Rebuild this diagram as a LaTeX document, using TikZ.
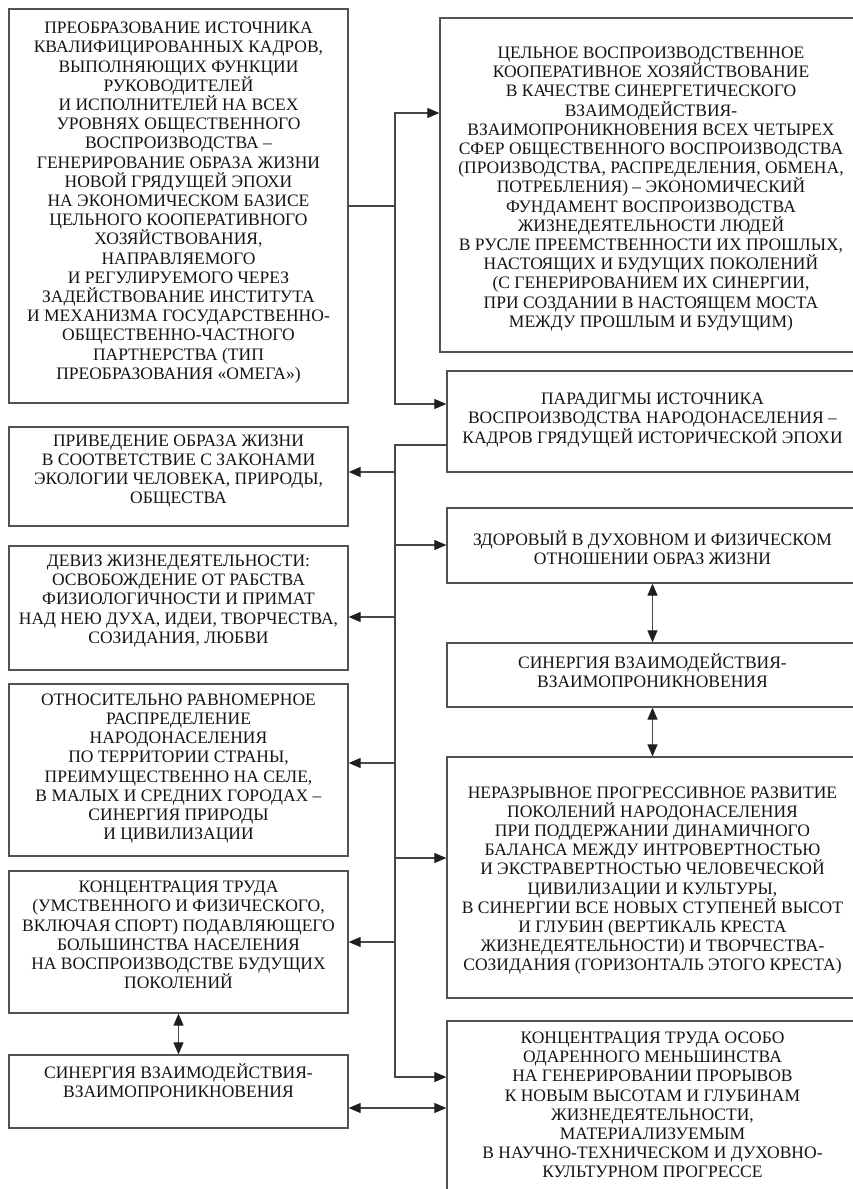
\documentclass[tikz,border=0pt]{standalone}
\usepackage{fontspec}
\setmainfont{Liberation Serif}
\usetikzlibrary{arrows.meta}
\begin{document}
\begin{tikzpicture}[x=1pt,y=-1pt,
  box/.style={draw=black!68, line width=1.3pt, rectangle, inner sep=0pt},
  txt/.style={align=center, inner sep=0pt, text=black!92, font=\fontsize{17.5}{19.2}\selectfont},
  ln/.style={draw=black!72, line width=1.1pt},
  arr/.style={ln, -{Triangle[length=12pt,width=10pt,color=black!88]}},
  darr/.style={ln, {Triangle[length=12pt,width=10pt,color=black!88]}-{Triangle[length=12pt,width=10pt,color=black!88]}}]
\useasboundingbox (0,0) rectangle (853,1189);
% left boxes
\node[box, minimum width=339pt, minimum height=394pt] (L1) at (178.5,206) {};
\node[box, minimum width=339pt, minimum height=99pt] (L2) at (178.5,476.5) {};
\node[box, minimum width=339pt, minimum height=124pt] (L3) at (178.5,608) {};
\node[box, minimum width=339pt, minimum height=172pt] (L4) at (178.5,770) {};
\node[box, minimum width=339pt, minimum height=142pt] (L5) at (178.5,942) {};
\node[box, minimum width=339pt, minimum height=73pt] (L6) at (178.5,1091.5) {};
% right boxes
\node[box, minimum width=422pt, minimum height=334pt] (R1) at (651,185) {};
\node[box, minimum width=411pt, minimum height=101pt] (R2) at (652.5,421.5) {};
\node[box, minimum width=411pt, minimum height=75pt] (R3) at (652.5,545.5) {};
\node[box, minimum width=411pt, minimum height=64pt] (R4) at (652.5,675) {};
\node[box, minimum width=411pt, minimum height=241pt] (R5) at (652.5,877.5) {};
\node[box, minimum width=411pt, minimum height=170pt] (R6) at (652.5,1106) {};
% texts
\node[txt] (L1t) at (178.5,202.5) {ПРЕОБРАЗОВАНИЕ ИСТОЧНИКА\\КВАЛИФИЦИРОВАННЫХ КАДРОВ,\\ВЫПОЛНЯЮЩИХ ФУНКЦИИ\\РУКОВОДИТЕЛЕЙ\\И ИСПОЛНИТЕЛЕЙ НА ВСЕХ\\УРОВНЯХ ОБЩЕСТВЕННОГО\\ВОСПРОИЗВОДСТВА –\\ГЕНЕРИРОВАНИЕ ОБРАЗА ЖИЗНИ\\НОВОЙ ГРЯДУЩЕЙ ЭПОХИ\\НА ЭКОНОМИЧЕСКОМ БАЗИСЕ\\ЦЕЛЬНОГО КООПЕРАТИВНОГО\\ХОЗЯЙСТВОВАНИЯ,\\НАПРАВЛЯЕМОГО\\И РЕГУЛИРУЕМОГО ЧЕРЕЗ\\ЗАДЕЙСТВОВАНИЕ ИНСТИТУТА\\И МЕХАНИЗМА ГОСУДАРСТВЕННО-\\ОБЩЕСТВЕННО-ЧАСТНОГО\\ПАРТНЕРСТВА (ТИП\\ПРЕОБРАЗОВАНИЯ «ОМЕГА»)};
\node[txt] (L2t) at (178.5,471) {ПРИВЕДЕНИЕ ОБРАЗА ЖИЗНИ\\В СООТВЕТСТВИЕ С ЗАКОНАМИ\\ЭКОЛОГИИ ЧЕЛОВЕКА, ПРИРОДЫ,\\ОБЩЕСТВА};
\node[txt] (L3t) at (178.5,601) {ДЕВИЗ ЖИЗНЕДЕЯТЕЛЬНОСТИ:\\ОСВОБОЖДЕНИЕ ОТ РАБСТВА\\ФИЗИОЛОГИЧНОСТИ И ПРИМАТ\\НАД НЕЮ ДУХА, ИДЕИ, ТВОРЧЕСТВА,\\СОЗИДАНИЯ, ЛЮБВИ};
\node[txt] (L4t) at (178.5,768.5) {ОТНОСИТЕЛЬНО РАВНОМЕРНОЕ\\РАСПРЕДЕЛЕНИЕ\\НАРОДОНАСЕЛЕНИЯ\\ПО ТЕРРИТОРИИ СТРАНЫ,\\ПРЕИМУЩЕСТВЕННО НА СЕЛЕ,\\В МАЛЫХ И СРЕДНИХ ГОРОДАХ –\\СИНЕРГИЯ ПРИРОДЫ\\И ЦИВИЛИЗАЦИИ};
\node[txt] (L5t) at (178.5,935) {КОНЦЕНТРАЦИЯ ТРУДА\\(УМСТВЕННОГО И ФИЗИЧЕСКОГО,\\ВКЛЮЧАЯ СПОРТ) ПОДАВЛЯЮЩЕГО\\БОЛЬШИНСТВА НАСЕЛЕНИЯ\\НА ВОСПРОИЗВОДСТВЕ БУДУЩИХ\\ПОКОЛЕНИЙ};
\node[txt] (L6t) at (178.5,1080.5) {СИНЕРГИЯ ВЗАИМОДЕЙСТВИЯ-\\ВЗАИМОПРОНИКНОВЕНИЯ};
\node[txt] (R1t) at (651,189) {ЦЕЛЬНОЕ ВОСПРОИЗВОДСТВЕННОЕ\\КООПЕРАТИВНОЕ ХОЗЯЙСТВОВАНИЕ\\В КАЧЕСТВЕ СИНЕРГЕТИЧЕСКОГО\\ВЗАИМОДЕЙСТВИЯ-\\ВЗАИМОПРОНИКНОВЕНИЯ ВСЕХ ЧЕТЫРЕХ\\СФЕР ОБЩЕСТВЕННОГО ВОСПРОИЗВОДСТВА\\(ПРОИЗВОДСТВА, РАСПРЕДЕЛЕНИЯ, ОБМЕНА,\\ПОТРЕБЛЕНИЯ) – ЭКОНОМИЧЕСКИЙ\\ФУНДАМЕНТ ВОСПРОИЗВОДСТВА\\ЖИЗНЕДЕЯТЕЛЬНОСТИ ЛЮДЕЙ\\В РУСЛЕ ПРЕЕМСТВЕННОСТИ ИХ ПРОШЛЫХ,\\НАСТОЯЩИХ И БУДУЩИХ ПОКОЛЕНИЙ\\(С ГЕНЕРИРОВАНИЕМ ИХ СИНЕРГИИ,\\ПРИ СОЗДАНИИ В НАСТОЯЩЕМ МОСТА\\МЕЖДУ ПРОШЛЫМ И БУДУЩИМ)};
\node[txt] (R2t) at (652.5,420) {ПАРАДИГМЫ ИСТОЧНИКА\\ВОСПРОИЗВОДСТВА НАРОДОНАСЕЛЕНИЯ –\\КАДРОВ ГРЯДУЩЕЙ ИСТОРИЧЕСКОЙ ЭПОХИ};
\node[txt] (R3t) at (652.5,548) {ЗДОРОВЫЙ В ДУХОВНОМ И ФИЗИЧЕСКОМ\\ОТНОШЕНИИ ОБРАЗ ЖИЗНИ};
\node[txt] (R4t) at (652.5,671) {СИНЕРГИЯ ВЗАИМОДЕЙСТВИЯ-\\ВЗАИМОПРОНИКНОВЕНИЯ};
\node[txt] (R5t) at (652.5,880.5) {НЕРАЗРЫВНОЕ ПРОГРЕССИВНОЕ РАЗВИТИЕ\\ПОКОЛЕНИЙ НАРОДОНАСЕЛЕНИЯ\\ПРИ ПОДДЕРЖАНИИ ДИНАМИЧНОГО\\БАЛАНСА МЕЖДУ ИНТРОВЕРТНОСТЬЮ\\И ЭКСТРАВЕРТНОСТЬЮ ЧЕЛОВЕЧЕСКОЙ\\ЦИВИЛИЗАЦИИ И КУЛЬТУРЫ,\\В СИНЕРГИИ ВСЕ НОВЫХ СТУПЕНЕЙ ВЫСОТ\\И ГЛУБИН (ВЕРТИКАЛЬ КРЕСТА\\ЖИЗНЕДЕЯТЕЛЬНОСТИ) И ТВОРЧЕСТВА-\\СОЗИДАНИЯ (ГОРИЗОНТАЛЬ ЭТОГО КРЕСТА)};
\node[txt] (R6t) at (652.5,1105) {КОНЦЕНТРАЦИЯ ТРУДА ОСОБО\\ОДАРЕННОГО МЕНЬШИНСТВА\\НА ГЕНЕРИРОВАНИИ ПРОРЫВОВ\\К НОВЫМ ВЫСОТАМ И ГЛУБИНАМ\\ЖИЗНЕДЕЯТЕЛЬНОСТИ,\\МАТЕРИАЛИЗУЕМЫМ\\В НАУЧНО-ТЕХНИЧЕСКОМ И ДУХОВНО-\\КУЛЬТУРНОМ ПРОГРЕССЕ};
% junction coordinates
\coordinate (j1) at (395,206);
\coordinate (j1t) at (395,113);
\coordinate (j1b) at (395,404);
\coordinate (j2t) at (395,445);
\coordinate (j2b) at (395,1077);
\coordinate (bL2) at (395,472);
\coordinate (bR3) at (395,545);
\coordinate (bL3) at (395,617);
\coordinate (bL4) at (395,763);
\coordinate (bR5) at (395,858);
\coordinate (bL5) at (395,942);
\coordinate (h6) at (395,1108);
% first trunk
\draw[ln] (L1.east) -- (j1);
\draw[arr] (j1) -- (j1t) -- (j1t -| R1.west);
\draw[arr] (j1) -- (j1b) -- (j1b -| R2.west);
% second trunk
\draw[arr] (j2t -| R2.west) -- (j2t) -- (j2b) -- (j2b -| R6.west);
\draw[arr] (bL2) -- (bL2 -| L2.east);
\draw[arr] (bR3) -- (bR3 -| R3.west);
\draw[arr] (bL3) -- (bL3 -| L3.east);
\draw[arr] (bL4) -- (bL4 -| L4.east);
\draw[arr] (bR5) -- (bR5 -| R5.west);
\draw[arr] (bL5) -- (bL5 -| L5.east);
% double arrows
\draw[darr] (R3.south) -- (R4.north);
\draw[darr] (R4.south) -- (R5.north);
\draw[darr] (L5.south) -- (L6.north);
\draw[darr] (h6 -| L6.east) -- (h6 -| R6.west);
\end{tikzpicture}
\end{document}
